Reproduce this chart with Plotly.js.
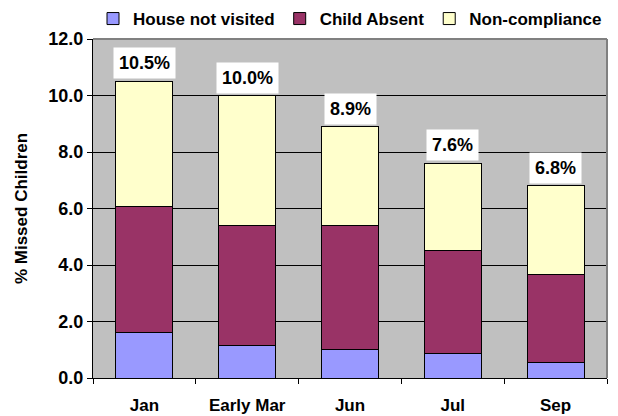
<!DOCTYPE html>
<html>
<head>
<meta charset="utf-8">
<script src="https://cdn.plot.ly/plotly-3.0.1.min.js"></script>
<style>html,body{margin:0;padding:0;background:#fff;}#chart{width:618px;height:416px;}</style>
</head>
<body>
<div id="chart"></div>
<script>
const categories = ["Jan", "Early Mar", "Jun", "Jul", "Sep"];
const houseNotVisited = [1.61, 1.14, 1.02, 0.87, 0.56];
const childAbsent = [4.47, 4.27, 4.39, 3.65, 3.10];
const nonCompliance = [4.42, 4.59, 3.49, 3.08, 3.14];
const totals = [10.5, 10.0, 8.9, 7.6, 6.8];
const totalLabels = ["10.5%", "10.0%", "8.9%", "7.6%", "6.8%"];
const yTicks = [0, 2, 4, 6, 8, 10, 12];

const font = "Liberation Sans, Arial, sans-serif";
const mk = (name, y, color) => ({
  type: "bar", name: "<b>" + name + "</b>", x: categories, y: y,
  marker: {color: color, line: {color: "#000", width: 1}},
  hoverinfo: "none"
});

const data = [
  mk("House not visited", houseNotVisited, "#9999FF"),
  mk("Child Absent", childAbsent, "#993366"),
  mk("Non-compliance", nonCompliance, "#FFFFCC")
];

const annotations = categories.map((c, i) => ({
  x: c, y: totals[i], xref: "x", yref: "y",
  text: "<b>" + totalLabels[i] + "</b>",
  showarrow: false, yanchor: "bottom", yshift: 2,
  bgcolor: "#FFFFFF", borderpad: 5,
  font: {family: font, size: 18, color: "#000"}
}));

const layout = {
  width: 618, height: 416,
  margin: {l: 93, r: 11, t: 39, b: 38, pad: 0, autoexpand: false},
  paper_bgcolor: "#FFFFFF",
  plot_bgcolor: "#C0C0C0",
  barmode: "stack",
  bargap: 0.445,
  showlegend: true,
  legend: {
    orientation: "h", x: 0.5, xanchor: "center", y: 1.059, yanchor: "middle",
    font: {family: font, size: 17, color: "#000"},
    traceorder: "normal", itemwidth: 30, tracegroupgap: 0
  },
  xaxis: {
    type: "category",
    showline: true, linecolor: "#000", linewidth: 1,
    ticks: "outside", tickson: "boundaries", ticklen: 5, tickcolor: "#000",
    ticklabelstandoff: 12,
    tickfont: {family: font, size: 17, color: "#000"},
    showgrid: false, fixedrange: true
  },
  yaxis: {
    range: [0, 12],
    tickvals: yTicks,
    ticktext: yTicks.map(v => "<b>" + v.toFixed(1) + "</b>"),
    showline: true, linecolor: "#000", linewidth: 1,
    ticks: "outside", ticklen: 5, tickcolor: "#000",
    tickfont: {family: font, size: 18, color: "#000"},
    showgrid: true, gridcolor: "#000", gridwidth: 1,
    zeroline: false,
    title: {text: "<b>% Missed Children</b>", font: {family: font, size: 17, color: "#000"}, standoff: 16},
    fixedrange: true
  },
  shapes: [
    {type: "line", xref: "paper", yref: "paper", x0: 0, x1: 1, y0: 1, y1: 1, line: {color: "#808080", width: 2}},
    {type: "line", xref: "paper", yref: "paper", x0: 1, x1: 1, y0: 0, y1: 1, line: {color: "#808080", width: 2}}
  ],
  annotations: annotations
};
layout.xaxis.ticktext = categories.map(c => "<b>" + c + "</b>");
layout.xaxis.tickvals = categories;

Plotly.newPlot("chart", data, layout, {displayModeBar: false, staticPlot: true});
</script>
</body>
</html>
